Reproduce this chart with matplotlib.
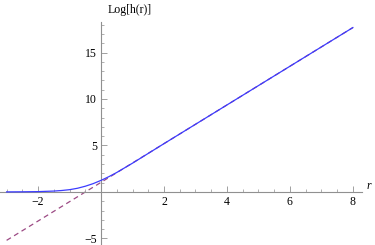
import numpy as np
import matplotlib
matplotlib.use("Agg")
import matplotlib.pyplot as plt
from matplotlib.ticker import MultipleLocator, FixedLocator

plt.rcParams['font.family'] = ['Liberation Serif', 'DejaVu Serif']

# curve: Log[h(r)]
r_vals = [-3.0, -2.5, -2.0, -1.5, -1.25, -1.0, -0.75, -0.5, -0.25, 0.0, 0.25, 0.5, 0.75, 1.0, 1.5, 2.0, 3.0, 4.0, 6.0, 8.0]
logh_vals = [0.01, 0.02, 0.04, 0.1, 0.16, 0.25, 0.4, 0.62, 0.9, 1.25, 1.65, 2.1, 2.6, 3.1, 4.15, 5.2, 7.28, 9.36, 13.52, 17.68]

# asymptote (dashed), two end points
asym_r = [-3.0, 8.0]
asym_y = [-5.2, 17.68]

x_major = [-2, 2, 4, 6, 8]
y_major = [-5, 5, 10, 15]

fig = plt.figure(figsize=(3.75, 2.45), dpi=100)
ax = fig.add_axes([0, 0, 362/375, (245-22)/245])
ax.set_xlim(-3.21, 8.29)
ax.set_ylim(-5.7, 18.28)

ax.plot(r_vals, logh_vals, color='#3c3cff', lw=0.9, zorder=3)
ax.plot(asym_r, asym_y, color='#9c4a84', lw=0.9, dashes=(4, 3), zorder=2)

for s in ['top', 'right']:
    ax.spines[s].set_visible(False)
ax.spines['left'].set_position(('data', 0))
ax.spines['bottom'].set_position(('data', 0))
for s in ['left', 'bottom']:
    ax.spines[s].set_color('#909090')
    ax.spines[s].set_linewidth(0.8)

ax.xaxis.set_major_locator(FixedLocator(x_major))
ax.xaxis.set_minor_locator(MultipleLocator(0.5))
ax.yaxis.set_major_locator(FixedLocator(y_major))
ax.yaxis.set_minor_locator(MultipleLocator(1))
ax.set_xticklabels([f'{v}'.replace('-', '\u2212') for v in x_major])
ax.set_yticklabels([f'{v}'.replace('-', '\u2212') for v in y_major])
ax.tick_params(which='major', direction='in', length=4, width=0.6, color='#909090', labelsize=8.5, pad=3)
ax.tick_params(which='minor', direction='in', length=2.2, width=0.5, color='#909090')
ax.patch.set_alpha(0)

fig.text(108/375, 1 - 10/245, 'Log[h(r)]', fontsize=8.5, va='center', ha='left')
fig.text(367/375, 1 - 186/245, 'r', fontsize=8.5, style='italic', va='center', ha='left')

fig.savefig('out.png', dpi=100)
